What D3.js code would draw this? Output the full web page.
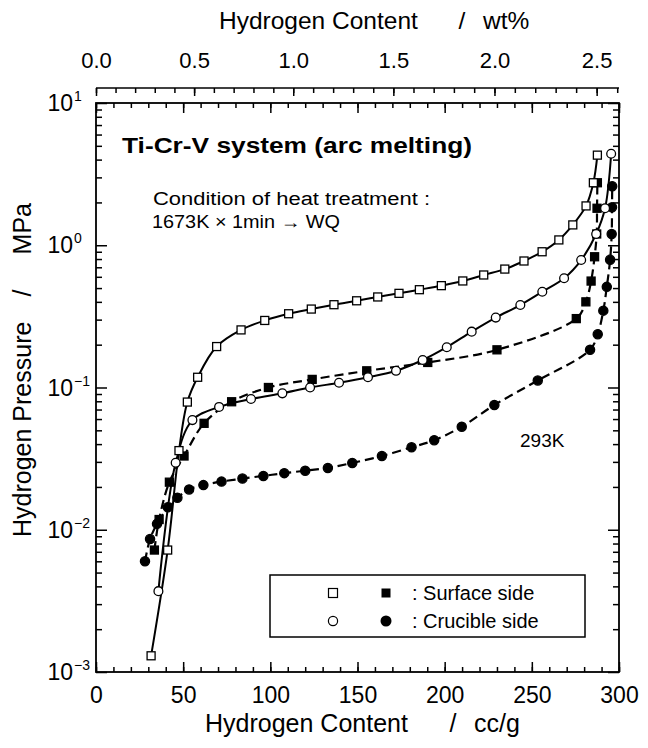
<!DOCTYPE html>
<html><head><meta charset="utf-8">
<script src="https://cdn.jsdelivr.net/npm/d3@7/dist/d3.min.js"></script>
<style>
html,body{margin:0;padding:0;background:#fff;}
svg{display:block;}
text{font-family:"Liberation Sans",Arial,Helvetica,sans-serif;fill:#000;}
</style></head><body>
<svg id="chart" width="648" height="748" xmlns="http://www.w3.org/2000/svg"></svg>
<script>
// ---------- data (hydrogen content cc/g, pressure MPa) ----------
const surfaceOpen = [[31.6,0.0013],[41.1,0.0072],[47.6,0.036],[52.4,0.079],[58.3,0.118],[69.2,0.194],[83.2,0.254],[96.8,0.296],[110.5,0.33],[123.5,0.356],[136.5,0.382],[149.5,0.407],[161.6,0.433],[173.8,0.459],[185.5,0.487],[198.1,0.52],[210.4,0.561],[222.4,0.618],[234.5,0.68],[245.5,0.775],[255.9,0.90],[265.5,1.09],[273.5,1.39],[281.1,1.89],[285.3,2.75],[287.6,4.3]];
const crucibleOpen = [[35.8,0.0037],[45.7,0.0296],[55.3,0.059],[70.6,0.073],[88.9,0.083],[106.9,0.091],[122.8,0.100],[139.4,0.108],[156,0.118],[172.1,0.131],[187.4,0.156],[201.2,0.192],[215.5,0.247],[229.3,0.31],[243.4,0.38],[256,0.471],[268.5,0.586],[278.3,0.787],[286.9,1.2],[292,1.82],[295.5,4.4]];
const surfaceFilled = [[33.5,0.0072],[36.2,0.0118],[42.1,0.0216],[50.5,0.033],[62,0.056],[77.8,0.0794],[98.9,0.100],[124,0.114],[155.3,0.131],[190.3,0.150],[230,0.184],[275.5,0.305],[281,0.40],[284,0.56],[286,0.83],[287.2,1.2],[287.4,1.82],[287.6,2.75]];
const crucibleFilled = [[28.1,0.006],[31,0.0086],[35,0.011],[41.2,0.0144],[46.7,0.0168],[53.4,0.0192],[61.6,0.0206],[72,0.0218],[84,0.0229],[96,0.0239],[108,0.025],[120,0.026],[133,0.0272],[147,0.0295],[164,0.033],[181,0.038],[194,0.0426],[209.8,0.053],[228.5,0.0753],[253.4,0.112],[283.4,0.184],[287.8,0.237],[291,0.347],[293,0.51],[294.9,0.79],[295.8,1.2],[296,1.85],[296.1,2.6]];

// ---------- tick values / labels ----------
const ccMajor = [0,50,100,150,200,250,300];
const ccMinor = d3.range(0,301,10);
const wtMajor = [0.0,0.5,1.0,1.5,2.0,2.5];
const wtMinor = d3.range(0,27).map(i => +(i/10).toFixed(1));
const decadeExps = [-3,-2,-1,0,1];
const expLabels = ["\u22123","\u22122","\u22121","0","1"];
const legendLabels = [": Surface side", ": Crucible side"];

// ---------- layout ----------
const svg = d3.select("#chart");
const X0 = 96, X1 = 619, Y0 = 103, Y1 = 672, YTOP = 88;
const x = d3.scaleLinear().domain([0,300]).range([X0,X1]);
const y = d3.scaleLog().domain([1e-3,10]).range([Y1,Y0]);
const ccFromWt = w => 11200*w/(100-w);
const xw = d3.scaleLinear().domain(wtMinor).range(wtMinor.map(w => x(ccFromWt(w))));

const decades = decadeExps.map(e => Math.pow(10,e));
const minorLog = [];
decadeExps.slice(0,4).forEach(e => { for (let k=2;k<=9;k++) minorLog.push(k*Math.pow(10,e)); });

function styleAxis(g, fs){
  g.select(".domain").remove();
  g.selectAll(".tick line").attr("stroke","#000").attr("stroke-width",1.5);
  g.attr("font-family","Liberation Sans, Arial, sans-serif").attr("font-size",fs||23);
}

// frame
svg.append("rect").attr("x",X0).attr("y",Y0).attr("width",X1-X0).attr("height",Y1-Y0)
  .attr("fill","none").attr("stroke","#000").attr("stroke-width",1.8);

// bottom axis
svg.append("g").attr("transform",`translate(0,${Y1})`)
  .call(d3.axisBottom(x).tickValues(ccMinor).tickSize(-5).tickSizeOuter(0).tickFormat(""))
  .call(g => styleAxis(g));
const bAx = svg.append("g").attr("transform",`translate(0,${Y1})`)
  .call(d3.axisBottom(x).tickValues(ccMajor).tickSize(-10).tickSizeOuter(0).tickFormat(d3.format("d")))
  .call(g => styleAxis(g,23));
bAx.selectAll("text").attr("y",31).attr("dy",null);

// top frame ticks
svg.append("g").attr("transform",`translate(0,${Y0})`)
  .call(d3.axisTop(x).tickValues(ccMinor).tickSize(-5).tickSizeOuter(0).tickFormat(""))
  .call(g => styleAxis(g));
svg.append("g").attr("transform",`translate(0,${Y0})`)
  .call(d3.axisTop(x).tickValues(ccMajor).tickSize(-10).tickSizeOuter(0).tickFormat(""))
  .call(g => styleAxis(g));

// left / right ticks
[[X0,d3.axisLeft],[X1,d3.axisRight]].forEach(([px,fn]) => {
  svg.append("g").attr("transform",`translate(${px},0)`)
    .call(fn(y).tickValues(minorLog).tickSize(-6).tickSizeOuter(0).tickFormat(""))
    .call(g => styleAxis(g));
  svg.append("g").attr("transform",`translate(${px},0)`)
    .call(fn(y).tickValues(decades).tickSize(-11).tickSizeOuter(0).tickFormat(""))
    .call(g => styleAxis(g));
});

// left labels 10^n
const yl = svg.append("g");
decades.forEach((d,i) => {
  yl.append("text").attr("x",73).attr("y",y(d)+8).attr("text-anchor","end").attr("font-size",23).text("10");
  yl.append("text").attr("x",74).attr("y",y(d)-2).attr("font-size",14).text(expLabels[i]);
});

// top wt% axis
svg.append("line").attr("x1",X0).attr("x2",X1).attr("y1",YTOP).attr("y2",YTOP).attr("stroke","#000").attr("stroke-width",1.6);
svg.append("g").attr("transform",`translate(0,${YTOP})`)
  .call(d3.axisTop(xw).tickValues(wtMinor).tickSize(-5).tickSizeOuter(0).tickFormat(""))
  .call(g => styleAxis(g));
svg.append("g").attr("transform",`translate(0,${YTOP})`)
  .call(d3.axisTop(xw).tickValues(wtMajor).tickSize(-8).tickSizeOuter(0).tickPadding(20).tickFormat(d3.format(".1f")))
  .call(g => styleAxis(g,22));

// axis titles
svg.append("text").attr("x",219).attr("y",29).attr("font-size",24.5).text("Hydrogen Content");
svg.append("text").attr("x",462).attr("y",29).attr("font-size",24.5).attr("text-anchor","middle").text("/");
svg.append("text").attr("x",483).attr("y",29).attr("font-size",24.5).text("wt%");

svg.append("text").attr("x",205).attr("y",732).attr("font-size",25).text("Hydrogen Content");
svg.append("text").attr("x",453).attr("y",732).attr("font-size",25).attr("text-anchor","middle").text("/");
svg.append("text").attr("x",474).attr("y",732).attr("font-size",25).text("cc/g");

const yt = svg.append("g").attr("transform","translate(31,0) rotate(-90)");
yt.append("text").attr("x",-537).attr("y",0).attr("font-size",25).text("Hydrogen Pressure");
yt.append("text").attr("x",-293).attr("y",0).attr("font-size",25).attr("text-anchor","middle").text("/");
yt.append("text").attr("x",-203).attr("y",0).attr("font-size",25).attr("text-anchor","end").text("MPa");

// ---------- curves ----------
const line = d3.line().x(d => x(d[0])).y(d => y(d[1])).curve(d3.curveCatmullRom.alpha(0.5));
const plot = svg.append("g");
[[surfaceOpen,null],[crucibleOpen,null],[surfaceFilled,"9,5"],[crucibleFilled,"9,5"]].forEach(([data,dash]) => {
  plot.append("path").datum(data).attr("d",line).attr("fill","none").attr("stroke","#000")
    .attr("stroke-width", dash ? 2.2 : 2).attr("stroke-dasharray",dash);
});

const SQ = 8;
function squares(data, filled){
  plot.selectAll(null).data(data).enter().append("rect")
    .attr("x",d => x(d[0])-SQ/2).attr("y",d => y(d[1])-SQ/2).attr("width",SQ).attr("height",SQ)
    .attr("fill",filled?"#000":"#fff").attr("stroke","#000").attr("stroke-width",1.3);
}
function circles(data, filled){
  plot.selectAll(null).data(data).enter().append("circle")
    .attr("cx",d => x(d[0])).attr("cy",d => y(d[1])).attr("r",filled?4.6:4.4)
    .attr("fill",filled?"#000":"#fff").attr("stroke","#000").attr("stroke-width",1.3);
}
squares(surfaceFilled,true);
circles(crucibleFilled,true);
squares(surfaceOpen,false);
circles(crucibleOpen,false);

// ---------- annotations ----------
svg.append("text").attr("x",122).attr("y",153).attr("font-size",22).attr("font-weight","bold")
  .attr("textLength",350).attr("lengthAdjust","spacingAndGlyphs").text("Ti-Cr-V system (arc melting)");
svg.append("text").attr("x",153).attr("y",205).attr("font-size",18)
  .attr("textLength",277).attr("lengthAdjust","spacingAndGlyphs").text("Condition of heat treatment :");
svg.append("text").attr("x",152).attr("y",228).attr("font-size",18)
  .attr("textLength",188).attr("lengthAdjust","spacingAndGlyphs").text("1673K \u00d7 1min \u2192 WQ");
svg.append("text").attr("x",520).attr("y",447).attr("font-size",19).text("293K");

// ---------- legend ----------
const lg = svg.append("g");
lg.append("rect").attr("x",270).attr("y",575).attr("width",315).attr("height",62)
  .attr("fill","#fff").attr("stroke","#000").attr("stroke-width",1.5);
const rows = [593,621];
lg.append("rect").attr("x",333-4.5).attr("y",rows[0]-4.5).attr("width",9).attr("height",9).attr("fill","#fff").attr("stroke","#000").attr("stroke-width",1.2);
lg.append("rect").attr("x",386-4.5).attr("y",rows[0]-4.5).attr("width",9).attr("height",9).attr("fill","#000");
lg.append("circle").attr("cx",333).attr("cy",rows[1]).attr("r",4.6).attr("fill","#fff").attr("stroke","#000").attr("stroke-width",1.2);
lg.append("circle").attr("cx",386).attr("cy",rows[1]).attr("r",5.5).attr("fill","#000");
legendLabels.forEach((t,i) => {
  lg.append("text").attr("x",412).attr("y",rows[i]+7).attr("font-size",20).text(t);
});
</script>
</body></html>
